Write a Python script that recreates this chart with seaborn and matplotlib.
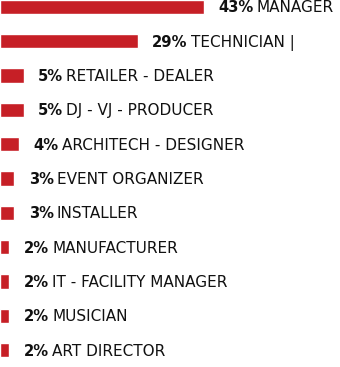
import matplotlib
matplotlib.use("Agg")
import matplotlib.pyplot as plt
import seaborn as sns
import pandas as pd

# Share of respondents by professional role
roles = [
    "MANAGER", "TECHNICIAN |", "RETAILER - DEALER", "DJ - VJ - PRODUCER",
    "ARCHITECH - DESIGNER", "EVENT ORGANIZER", "INSTALLER", "MANUFACTURER",
    "IT - FACILITY MANAGER", "MUSICIAN", "ART DIRECTOR",
]
shares = [43, 29, 5, 5, 4, 3, 3, 2, 2, 2, 2]

df = pd.DataFrame({"role": roles, "share": shares})

sns.set_theme(style="white")
plt.rcParams["font.family"] = ["DejaVu Sans"]

DPI = 100
fig = plt.figure(figsize=(3.40, 3.67), dpi=DPI)
ax = fig.add_axes([0, 0, 1, 1])

sns.barplot(data=df, x="share", y="role", orient="h", color="#c61f26",
            saturation=1, width=0.42, ax=ax)

ax.set_xlim(0, 71.7)
ax.set_ylim(10.49, -0.2)
ax.axis("off")

gap = 10.5        # points between bar end and the percentage
drop = -3.9       # baseline offset so caps sit centred on the bar
pct_texts = []
for i, v in enumerate(shares):
    t = ax.annotate(f"{v}%", xy=(v, i), xytext=(gap, drop),
                    textcoords="offset points", va="baseline", ha="left",
                    fontsize=10.6, fontweight="bold", color="#111111")
    pct_texts.append(t)

fig.canvas.draw()
renderer = fig.canvas.get_renderer()
for i, (r, v, t) in enumerate(zip(roles, shares, pct_texts)):
    w_pt = t.get_window_extent(renderer).width * 72 / DPI
    ax.annotate(r, xy=(v, i), xytext=(gap + w_pt + 2.2, drop),
                textcoords="offset points", va="baseline", ha="left",
                fontsize=11.0, color="#111111")

fig.savefig("out.png", dpi=DPI, facecolor="white")
